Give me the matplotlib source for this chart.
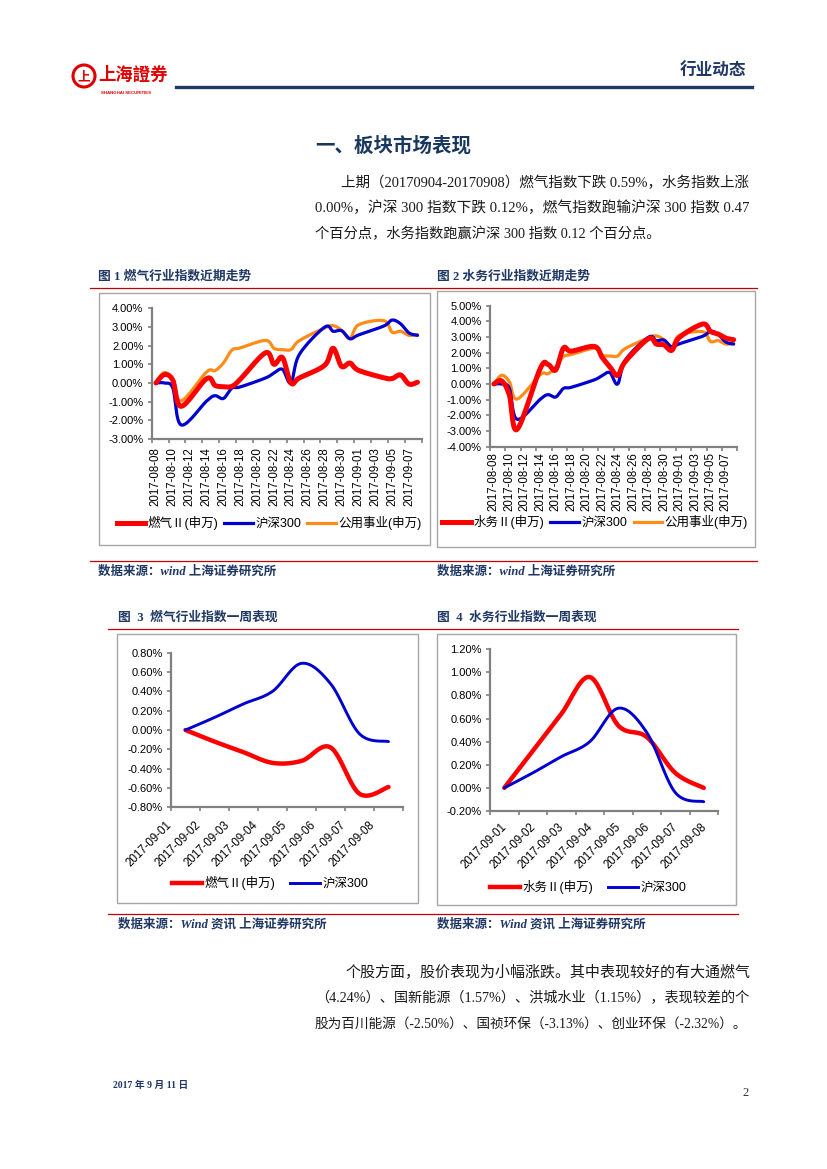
import numpy as np
import matplotlib
matplotlib.use('Agg')
import matplotlib.pyplot as plt
from matplotlib.patches import Rectangle, Ellipse
from matplotlib.lines import Line2D
from matplotlib.transforms import ScaledTranslation

W, H = 827, 1169
plt.rcParams['font.family'] = ['Liberation Sans', 'Noto Sans CJK SC', 'DejaVu Sans']
CJK = ['Noto Sans CJK SC', 'DejaVu Sans']
SERIF = ['Liberation Serif', 'Noto Sans CJK SC', 'DejaVu Sans']
NAVY = '#1F3864'
RED = '#FF0000'
BLUE = '#0000D0'
ORANGE = '#FF8C1A'
AXC = '#808080'

# ---------------- data ----------------
dates = ['2017-08-08', '2017-08-09', '2017-08-10', '2017-08-11', '2017-08-14', '2017-08-15',
         '2017-08-16', '2017-08-17', '2017-08-18', '2017-08-21', '2017-08-22', '2017-08-23',
         '2017-08-24', '2017-08-25', '2017-08-28', '2017-08-29', '2017-08-30', '2017-08-31',
         '2017-09-01', '2017-09-04', '2017-09-05', '2017-09-06', '2017-09-07', '2017-09-08']
gas_idx = [0.00, 0.45, 0.15, -1.25, 0.23, -0.13, -0.20, -0.18, 0.20, 1.62, 1.00, 1.36,
           0.00, 0.27, 0.95, 1.86, 0.89, 1.07, 0.68, 0.28, 0.24, 0.43, -0.06, 0.04]
water_idx = [0.00, 0.20, -0.70, -2.90, 1.00, 1.25, 0.90, 2.30, 2.10, 2.40, 1.70, 1.10,
             0.55, 1.44, 2.90, 2.55, 2.50, 2.15, 2.98, 3.83, 3.36, 3.19, 2.93, 2.83]
hs300 = [0.00, 0.00, -0.27, -2.25, -0.97, -0.68, -0.83, -0.28, -0.21, 0.27, 0.54, 0.73,
         0.00, 1.53, 2.99, 2.77, 2.80, 2.37, 2.57, 3.05, 3.37, 3.17, 2.68, 2.55]
utilities = [0.00, 0.56, 0.15, -0.96, 0.59, 0.66, 1.07, 1.76, 1.88, 2.28, 1.85, 1.79,
             1.79, 2.27, 2.95, 3.07, 2.83, 2.37, 3.11, 3.34, 2.72, 2.77, 2.55, 2.60]
tick_dates = ['2017-08-08', '2017-08-10', '2017-08-12', '2017-08-14', '2017-08-16', '2017-08-18',
              '2017-08-20', '2017-08-22', '2017-08-24', '2017-08-26', '2017-08-28', '2017-08-30',
              '2017-09-01', '2017-09-03', '2017-09-05', '2017-09-07']
end_date = '2017-09-08'

week_days = ['2017-09-01', '2017-09-02', '2017-09-03', '2017-09-04',
             '2017-09-05', '2017-09-06', '2017-09-07', '2017-09-08']
gas_week = [0.00, -0.12, -0.23, -0.34, -0.32, -0.18, -0.66, -0.59]
water_week = [0.00, 0.32, 0.64, 0.96, 0.54, 0.44, 0.13, 0.00]
hs300_week = [0.00, 0.13, 0.27, 0.40, 0.69, 0.48, -0.04, -0.12]

yt1 = [-3, -2, -1, 0, 1, 2, 3, 4]
yt2 = [-4, -3, -2, -1, 0, 1, 2, 3, 4, 5]
yt3 = [-0.8, -0.6, -0.4, -0.2, 0.0, 0.2, 0.4, 0.6, 0.8]
yt4 = [-0.2, 0.0, 0.2, 0.4, 0.6, 0.8, 1.0, 1.2]


def smooth(x, y, n=16):
    """Excel-style smoothed line (Bezier through the data points)."""
    P = np.column_stack([np.asarray(x, float), np.asarray(y, float)])
    E = np.vstack([P[0], P, P[-1]])
    t = np.linspace(0, 1, n + 1)[1:][:, None]
    out = [P[:1]]
    for i in range(len(P) - 1):
        p0, p1, p2, p3 = E[i], E[i + 1], E[i + 2], E[i + 3]
        c1 = p1 + (p2 - p0) / 6.0
        c2 = p2 - (p3 - p1) / 6.0
        out.append((1 - t) ** 3 * p1 + 3 * (1 - t) ** 2 * t * c1 + 3 * (1 - t) * t ** 2 * c2 + t ** 3 * p2)
    out = np.vstack(out)
    return out[:, 0], out[:, 1]


fig = plt.figure(figsize=(W / 100, H / 100), dpi=100)
fig.patch.set_facecolor('white')
renderer = fig.canvas.get_renderer()


def fx(x):
    return x / W


def fy(y):
    return 1 - y / H


def add_ax(l, t, r, b):
    return fig.add_axes([l / W, 1 - b / H, (r - l) / W, (b - t) / H])


def hline(x0, x1, y, color, lw):
    fig.add_artist(Line2D([fx(x0), fx(x1)], [fy(y), fy(y)], color=color, lw=lw,
                          transform=fig.transFigure))


def box(l, t, r, b):
    fig.add_artist(Rectangle((fx(l), fy(b)), (r - l) / W, (b - t) / H, fill=False,
                             edgecolor='#A6A6A6', lw=1.0, transform=fig.transFigure))


def style_axes(ax):
    for s in ['top', 'right']:
        ax.spines[s].set_visible(False)
    for s in ['left', 'bottom']:
        ax.spines[s].set_color(AXC)
        ax.spines[s].set_linewidth(1.6)
    ax.patch.set_alpha(0)
    ax.tick_params(axis='y', direction='out', length=3, width=1.2, color=AXC,
                   labelsize=8, pad=3, labelcolor='black')


body_kw = dict(family=SERIF, color='#1A1A1A', va='center', ha='left')


def body_line(x0, y, s, x1=None, base=10.3):
    t = fig.text(fx(x0), fy(y), s, fontsize=base, **body_kw)
    if x1 is not None:
        w = t.get_window_extent(renderer).width
        t.set_fontsize(base * (x1 - x0) / w)
    return t


# ---------------- header ----------------
fig.add_artist(Ellipse((fx(84), fy(76)), 22 / W, 22 / H, facecolor='none', edgecolor='#E00000',
                       lw=2.2, transform=fig.transFigure))
fig.text(fx(84), fy(76.5), '上', color='#E00000', fontsize=9, weight='bold', family=CJK,
         ha='center', va='center')
fig.text(fx(98), fy(75), '上海證券', color='#E00000', fontsize=12.5, weight='bold',
         family=['Noto Sans CJK TC', 'DejaVu Sans'], ha='left', va='center')
fig.text(fx(101), fy(93), 'SHANGHAI SECURITIES', color='#E00000', fontsize=3.2, weight='bold',
         ha='left', va='center')
fig.text(fx(746), fy(71), '行业动态', color=NAVY, fontsize=12, weight='bold', family=CJK,
         ha='right', va='center')
hline(176, 752, 87, '#1F3A68', 2.4)

fig.text(fx(315), fy(146), '一、板块市场表现', color='#17375E', fontsize=14, weight='bold',
         family=CJK, ha='left', va='center')

body_line(341, 183, '上期（20170904-20170908）燃气指数下跌 0.59%，水务指数上涨', x1=748)
body_line(315, 208, '0.00%，沪深 300 指数下跌 0.12%，燃气指数跑输沪深 300 指数 0.47', x1=748)
body_line(315, 234, '个百分点，水务指数跑赢沪深 300 指数 0.12 个百分点。')

title_kw = dict(fontsize=9.2, weight='bold', family=SERIF, color=NAVY, va='center', ha='left')
fig.text(fx(98), fy(277), '图 1 燃气行业指数近期走势', **title_kw)
fig.text(fx(437), fy(277), '图 2 水务行业指数近期走势', **title_kw)
hline(90, 757, 288, '#C00000', 0.9)
box(99, 293, 430, 545)
box(437, 291, 755, 547)
hline(90, 757, 561, '#C00000', 0.9)

src_kw = dict(fontsize=9, weight='bold', style='italic', family=SERIF, color=NAVY,
              va='center', ha='left')
fig.text(fx(98), fy(572), '数据来源：wind 上海证券研究所', **src_kw)
fig.text(fx(437), fy(572), '数据来源：wind 上海证券研究所', **src_kw)

fig.text(fx(118), fy(618), '图  3  燃气行业指数一周表现', **title_kw)
fig.text(fx(437), fy(618), '图  4  水务行业指数一周表现', **title_kw)
hline(108, 738, 629, '#C00000', 0.9)
box(117, 634, 418, 903)
box(437, 634, 736, 905)
hline(108, 738, 914, '#C00000', 0.9)
fig.text(fx(118), fy(924), '数据来源：Wind 资讯 上海证券研究所', **src_kw)
fig.text(fx(437), fy(924), '数据来源：Wind 资讯 上海证券研究所', **src_kw)

body_line(345, 972, '个股方面，股价表现为小幅涨跌。其中表现较好的有大通燃气', x1=748)
body_line(315, 998, '（4.24%）、国新能源（1.57%）、洪城水业（1.15%），表现较差的个', x1=748)
body_line(315, 1024, '股为百川能源（-2.50%）、国祯环保（-3.13%）、创业环保（-2.32%）。', x1=746)

fig.text(fx(113), fy(1085), '2017 年 9 月 11 日', fontsize=7, weight='bold', family=SERIF,
         color=NAVY, ha='left', va='center')
fig.text(fx(746), fy(1093), '2', fontsize=9, family=SERIF, color='#333333', ha='center', va='center')

# ---------------- charts 1 & 2 (date axis) ----------------
d0 = np.datetime64(dates[0])
xd = (np.array(dates, dtype='datetime64[D]') - d0).astype(int)
xt = (np.array(tick_dates, dtype='datetime64[D]') - d0).astype(int)
xend = int((np.datetime64(end_date) - d0).astype(int))


def date_chart(ax, main, main_color, yt):
    style_axes(ax)
    for vals, col, lw in [(utilities, ORANGE, 2.3), (hs300, BLUE, 2.3), (main, main_color, 3.6)]:
        sx, sy = smooth(xd, vals)
        ax.plot(sx, sy, color=col, lw=lw, solid_capstyle='round', solid_joinstyle='round')
    ax.set_xlim(xd[0] - 0.5, xend + 0.5)
    ax.set_ylim(yt[0], yt[-1])
    ax.set_yticks(yt)
    ax.set_yticklabels([f'{v:.2f}%' for v in yt])
    ax.set_xticks(xt)
    ax.set_xticklabels(tick_dates, rotation=90, fontsize=8.3)
    ax.tick_params(axis='x', length=0, pad=6)
    ax.set_xticks(np.arange(xd[0] - 0.5, xend + 1, 2.0), minor=True)
    ax.tick_params(axis='x', which='minor', direction='out', length=3, width=1.2, color=AXC)
    handles = [Line2D([], [], color=main_color, lw=3.6), Line2D([], [], color=BLUE, lw=2.3),
               Line2D([], [], color=ORANGE, lw=2.3)]
    return handles


ax1 = add_ax(151.7, 308.3, 421.7, 439.0)
h1 = date_chart(ax1, gas_idx, RED, yt1)
fig.legend(h1, ['燃气Ⅱ(申万)', '沪深300', '公用事业(申万)'], loc='center',
           bbox_to_anchor=(fx(269), fy(523)), ncol=3, frameon=False, fontsize=9,
           handlelength=2.3, handletextpad=0.2, columnspacing=0.45)

ax2 = add_ax(490.0, 305.7, 737.5, 446.7)
h2 = date_chart(ax2, water_idx, RED, yt2)
ax2.tick_params(axis='x', pad=4)
fig.legend(h2, ['水务Ⅱ(申万)', '沪深300', '公用事业(申万)'], loc='center',
           bbox_to_anchor=(fx(595), fy(522)), ncol=3, frameon=False, fontsize=9,
           handlelength=2.3, handletextpad=0.2, columnspacing=0.5)

# ---------------- charts 3 & 4 (category axis) ----------------
xc = np.arange(len(week_days))


def week_chart(ax, main, yt, dx, dy):
    style_axes(ax)
    sx, sy = smooth(xc, main)
    ax.plot(sx, sy, color=RED, lw=3.2, solid_capstyle='round')
    sx, sy = smooth(xc, hs300_week)
    ax.plot(sx, sy, color=BLUE, lw=2.1, solid_capstyle='round')
    ax.set_xlim(-0.5, len(week_days) - 0.5)
    ax.set_ylim(yt[0], yt[-1])
    ax.set_yticks(yt)
    ax.set_yticklabels([f'{v:.2f}%' for v in yt])
    ax.set_xticks(np.arange(-0.5, len(week_days), 1.0))
    ax.set_xticklabels([])
    ax.tick_params(axis='x', direction='out', length=3, width=1.2, color=AXC)
    off = ax.get_xaxis_transform() + ScaledTranslation(dx / 100, -dy / 100, fig.dpi_scale_trans)
    for i, lab in zip(xc, week_days):
        ax.text(i, 0, lab, transform=off, rotation=45, rotation_mode='anchor',
                ha='right', va='center', fontsize=8.3)


ax3 = add_ax(171.0, 652.7, 403.0, 807.3)
week_chart(ax3, gas_week, yt3, -16, 16)
fig.legend([Line2D([], [], color=RED, lw=3.2), Line2D([], [], color=BLUE, lw=2.1)],
           ['燃气Ⅱ(申万)', '沪深300'], loc='center', bbox_to_anchor=(fx(270), fy(883)),
           ncol=2, frameon=False, fontsize=9, handlelength=2.4, handletextpad=0.2,
           columnspacing=1.2)

ax4 = add_ax(490.0, 649.3, 718.0, 811.0)
week_chart(ax4, water_week, yt4, 1, 14)
fig.legend([Line2D([], [], color=RED, lw=3.2), Line2D([], [], color=BLUE, lw=2.1)],
           ['水务Ⅱ(申万)', '沪深300'], loc='center', bbox_to_anchor=(fx(588), fy(887)),
           ncol=2, frameon=False, fontsize=9, handlelength=2.4, handletextpad=0.2,
           columnspacing=1.2)

fig.savefig('out.png', dpi=100, facecolor='white')
